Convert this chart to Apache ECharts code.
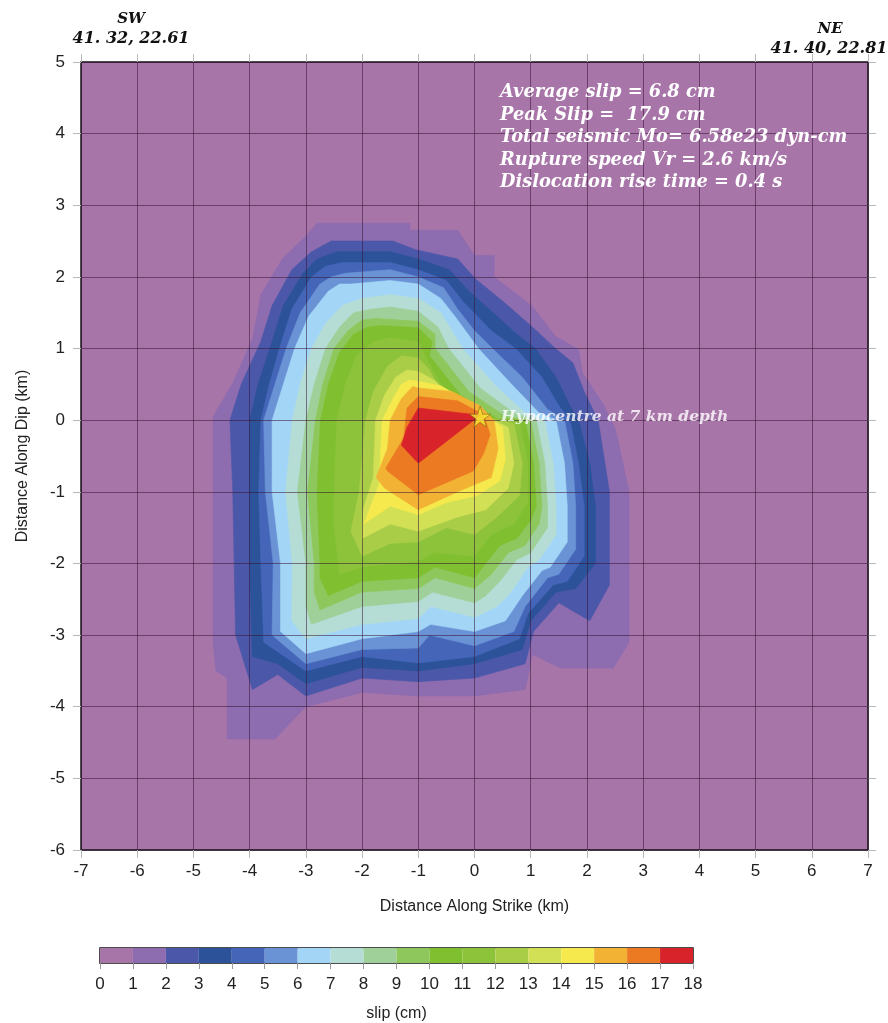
<!DOCTYPE html>
<html>
<head>
<meta charset="utf-8">
<script src="https://cdn.jsdelivr.net/npm/echarts@6/dist/echarts.min.js"></script>
<style>
  html, body { margin: 0; padding: 0; background: #ffffff; }
  #chart { width: 888px; height: 1023px; }
</style>
</head>
<body>
<div id="chart"></div>
<script>
// Slip levels (cm) and the colour of each 1 cm band
const slipLevels = [0, 1, 2, 3, 4, 5, 6, 7, 8, 9, 10, 11, 12, 13, 14, 15, 16, 17, 18];
const bandColors = [
  '#a875a9', '#8d6cb0', '#4b57a8', '#2c5299', '#4566b8', '#6a93d6',
  '#a3d6f6', '#b5ddd5', '#a0d09a', '#8ec85c', '#7fbf30', '#8cc33a',
  '#aacd48', '#d2e055', '#f5e94e', '#f2b334', '#ec7a22', '#d9232b'
];

// Slip contours, [along strike km, along dip km]; contourN encloses slip >= N cm
const contour1 = [[-2.8,2.75],[-1.15,2.75],[-1.15,2.65],[-0.3,2.65],[0.0,2.3],[0.35,2.3],[0.35,2.0],[1.03,1.59],[1.44,1.17],[1.85,0.99],[1.92,0.66],[2.28,0.24],[2.51,-0.13],[2.75,-1.0],[2.75,-3.1],[2.47,-3.46],[1.53,-3.46],[1.03,-3.27],[0.9,-3.76],[0.0,-3.85],[-1.0,-3.85],[-2.0,-3.8],[-3.0,-4.0],[-3.55,-4.45],[-4.4,-4.45],[-4.4,-3.6],[-4.6,-3.5],[-4.65,-3.1],[-4.65,0.05],[-4.3,0.52],[-3.95,1.13],[-3.8,1.75],[-3.42,2.25],[-3.0,2.57]];
const contour2 = [[-2.55,2.5],[-1.45,2.5],[-1.05,2.38],[-0.3,2.25],[0.02,1.97],[0.55,1.63],[1.03,1.3],[1.44,1.0],[1.75,0.8],[1.95,0.4],[2.2,0.0],[2.3,-0.5],[2.4,-1.0],[2.4,-2.3],[2.05,-2.8],[1.5,-2.55],[1.05,-2.95],[0.9,-3.4],[0.0,-3.6],[-1.0,-3.65],[-2.0,-3.6],[-3.0,-3.85],[-3.5,-3.55],[-3.95,-3.76],[-4.25,-3.0],[-4.3,-1.0],[-4.35,0.0],[-4.15,0.5],[-3.8,1.1],[-3.6,1.6],[-3.25,2.1],[-2.9,2.35]];
const contour3 = [[-2.45,2.35],[-1.5,2.35],[-1.0,2.25],[-0.45,2.1],[-0.1,1.8],[0.4,1.45],[0.75,1.2],[1.08,1.0],[1.45,0.6],[1.7,0.2],[1.85,0.0],[2.05,-0.6],[2.15,-1.2],[2.15,-2.0],[1.8,-2.35],[1.45,-2.4],[1.0,-2.8],[0.85,-3.2],[0.0,-3.4],[-1.0,-3.5],[-2.0,-3.45],[-3.0,-3.68],[-3.5,-3.4],[-3.95,-3.3],[-4.0,-2.0],[-4.0,-1.0],[-4.0,0.0],[-3.85,0.5],[-3.6,1.1],[-3.4,1.6],[-3.05,2.05],[-2.8,2.25]];
const contour4 = [[-2.35,2.2],[-1.5,2.2],[-1.0,2.1],[-0.5,1.95],[-0.2,1.65],[0.3,1.25],[0.73,1.0],[1.2,0.6],[1.5,0.2],[1.7,0.0],[1.85,-0.6],[1.95,-1.2],[1.95,-1.9],[1.65,-2.25],[1.4,-2.3],[0.95,-2.7],[0.8,-3.05],[0.0,-3.3],[-1.0,-3.39],[-2.0,-3.3],[-3.0,-3.5],[-3.75,-3.1],[-3.8,-2.0],[-3.84,-1.0],[-3.8,0.0],[-3.65,0.5],[-3.45,1.05],[-3.25,1.55],[-2.9,2.0],[-2.65,2.15]];
const contour5 = [[-2.3,2.05],[-1.5,2.1],[-1.0,2.0],[-0.55,1.85],[-0.3,1.55],[0.0,1.25],[0.32,1.0],[0.85,0.6],[1.3,0.15],[1.6,0.0],[1.75,-0.6],[1.8,-1.2],[1.8,-1.8],[1.5,-2.15],[1.3,-2.2],[0.9,-2.6],[0.7,-2.95],[0.0,-3.15],[-0.8,-3.0],[-1.0,-3.18],[-2.0,-3.2],[-3.0,-3.4],[-3.6,-3.0],[-3.58,-2.0],[-3.72,-1.0],[-3.75,0.0],[-3.55,0.5],[-3.35,1.0],[-3.1,1.5],[-2.75,1.9],[-2.55,2.0]];
const contour6 = [[-2.2,1.9],[-1.5,1.95],[-1.0,1.9],[-0.6,1.7],[-0.35,1.45],[0.07,1.0],[0.6,0.55],[1.15,0.1],[1.45,0.0],[1.6,-0.6],[1.65,-1.2],[1.65,-1.7],[1.35,-2.05],[1.2,-2.1],[0.85,-2.45],[0.55,-2.8],[0.0,-2.95],[-0.78,-2.85],[-1.0,-2.95],[-2.0,-3.05],[-3.0,-3.26],[-3.45,-2.95],[-3.45,-2.0],[-3.6,-1.0],[-3.6,0.0],[-3.4,0.5],[-3.2,1.0],[-2.95,1.45],[-2.6,1.8],[-2.4,1.9]];
const contour7 = [[-2.0,1.7],[-1.5,1.75],[-1.0,1.7],[-0.6,1.5],[-0.21,1.0],[0.35,0.5],[0.9,0.1],[1.25,0.0],[1.4,-0.6],[1.45,-1.2],[1.45,-1.6],[1.15,-1.95],[0.95,-2.05],[0.65,-2.4],[0.4,-2.6],[0.0,-2.75],[-0.78,-2.6],[-1.0,-2.77],[-2.0,-2.85],[-3.0,-3.05],[-3.25,-2.8],[-3.24,-2.0],[-3.36,-1.0],[-3.24,0.0],[-3.1,0.5],[-2.9,1.0],[-2.65,1.35],[-2.35,1.6]];
const contour8 = [[-1.85,1.55],[-1.5,1.58],[-1.0,1.52],[-0.65,1.3],[-0.46,1.0],[0.1,0.45],[0.7,0.1],[1.1,0.0],[1.25,-0.6],[1.3,-1.2],[1.3,-1.5],[1.0,-1.85],[0.75,-1.95],[0.45,-2.25],[0.2,-2.45],[0.0,-2.55],[-0.75,-2.4],[-1.0,-2.53],[-2.0,-2.6],[-2.9,-2.85],[-3.0,-2.6],[-3.0,-2.0],[-3.15,-1.0],[-3.0,0.0],[-2.85,0.5],[-2.65,1.0],[-2.4,1.3],[-2.15,1.5]];
const contour9 = [[-1.75,1.42],[-1.0,1.38],[-0.7,1.2],[-0.7,1.0],[-0.1,0.4],[0.55,0.05],[1.0,0.0],[1.15,-0.6],[1.2,-1.2],[1.15,-1.45],[0.9,-1.75],[0.6,-1.85],[0.3,-2.15],[0.0,-2.35],[-0.7,-2.2],[-1.0,-2.35],[-2.0,-2.4],[-2.75,-2.65],[-2.85,-2.4],[-2.85,-2.0],[-2.97,-1.0],[-2.83,0.0],[-2.7,0.5],[-2.5,1.0],[-2.25,1.25],[-2.0,1.4]];
const contour10 = [[-1.65,1.32],[-1.0,1.29],[-0.75,1.1],[-0.8,0.9],[-0.25,0.35],[0.4,0.02],[0.9,0.0],[1.05,-0.6],[1.1,-1.2],[1.0,-1.4],[0.75,-1.65],[0.45,-1.75],[0.15,-2.05],[0.0,-2.2],[-0.7,-2.05],[-1.0,-2.2],[-2.0,-2.25],[-2.6,-2.45],[-2.75,-2.2],[-2.75,-2.0],[-2.8,-1.0],[-2.74,0.0],[-2.6,0.5],[-2.4,0.95],[-2.15,1.2],[-1.9,1.3]];
const contour11 = [[-1.5,1.15],[-1.0,1.1],[-0.85,0.85],[-0.45,0.3],[0.25,0.0],[0.8,0.0],[0.95,-0.6],[0.95,-1.15],[0.7,-1.45],[0.3,-1.6],[0.0,-1.9],[-0.7,-1.85],[-1.0,-1.97],[-2.0,-2.05],[-2.4,-2.15],[-2.5,-1.5],[-2.5,-1.0],[-2.45,0.0],[-2.3,0.5],[-2.1,0.9],[-1.8,1.1]];
const contour12 = [[-1.3,0.9],[-1.0,0.87],[-0.8,0.7],[-0.55,0.3],[0.15,0.05],[0.7,-0.05],[0.85,-0.6],[0.8,-1.05],[0.4,-1.35],[0.0,-1.6],[-0.5,-1.5],[-1.0,-1.7],[-1.5,-1.72],[-2.0,-1.9],[-2.2,-1.55],[-2.05,-1.0],[-1.94,0.0],[-1.8,0.4],[-1.55,0.75]];
const contour13 = [[-1.2,0.7],[-1.0,0.68],[-0.7,0.55],[-0.45,0.35],[0.1,0.1],[0.6,-0.1],[0.7,-0.6],[0.6,-0.95],[0.2,-1.25],[-0.3,-1.35],[-1.0,-1.55],[-1.5,-1.45],[-2.0,-1.65],[-1.98,-1.25],[-1.8,-0.8],[-1.76,0.0],[-1.6,0.35],[-1.4,0.6]];
const contour14 = [[-1.15,0.56],[-1.0,0.54],[-0.6,0.48],[-0.2,0.3],[0.15,0.1],[0.5,-0.1],[0.55,-0.55],[0.45,-0.85],[0.05,-1.05],[-0.5,-1.15],[-1.0,-1.32],[-1.5,-1.2],[-1.97,-1.45],[-1.7,-0.9],[-1.64,0.0],[-1.45,0.3],[-1.3,0.5]];
const contour15 = [[-1.1,0.47],[-1.0,0.45],[-0.4,0.4],[0.1,0.2],[0.35,0.0],[0.42,-0.4],[0.3,-0.8],[-0.3,-1.0],[-1.0,-1.25],[-1.6,-0.95],[-1.75,-0.8],[-1.55,-0.4],[-1.5,0.0],[-1.3,0.3]];
const contour16 = [[-1.0,0.33],[-0.3,0.27],[0.16,0.08],[0.28,-0.2],[0.16,-0.47],[-0.02,-0.71],[-1.0,-1.04],[-1.55,-0.71],[-1.58,-0.67],[-1.26,-0.25],[-1.2,0.17]];
const contour17 = [[-1.0,0.17],[0.1,0.07],[-1.0,-0.6],[-1.3,-0.35],[-1.2,-0.1]];
const contours = [contour1, contour2, contour3, contour4, contour5, contour6, contour7, contour8,
  contour9, contour10, contour11, contour12, contour13, contour14, contour15, contour16, contour17];

// Hypocentre position (km)
const hypocentre = [0.1, 0.05];

// Fault-plane axis extents (km)
const strikeRange = [-7, 7];
const dipRange = [-6, 5];

const summaryLines = [
  'Average slip = 6.8 cm',
  'Peak Slip =  17.9 cm',
  'Total seismic Mo= 6.58e23 dyn-cm',
  'Rupture speed Vr = 2.6 km/s',
  'Dislocation rise time = 0.4 s'
];

const serifBI = '"DejaVu Serif", "Liberation Serif", serif';
const sans = '"Liberation Sans", Arial, Helvetica, sans-serif';
const starPath = 'path://M50,0 L61,35 L98,35 L68,57 L79,91 L50,70 L21,91 L32,57 L2,35 L39,35 Z';

const chart = echarts.init(document.getElementById('chart'), null, { renderer: 'canvas' });

const gridLineStyle = { color: 'rgba(55,20,55,0.55)', width: 1 };
const tickStyle = { color: '#b8b8b8', width: 1 };
const hiddenLine = { show: false, onZero: false };

chart.setOption({
  backgroundColor: '#ffffff',
  animation: false,
  grid: [
    { left: 81, right: 20, top: 62, bottom: 173, show: true,
      backgroundColor: bandColors[0], borderColor: '#151515', borderWidth: 1.5 },
    { left: 100, right: 195, top: 948, height: 15, show: true,
      backgroundColor: 'transparent', borderColor: '#151515', borderWidth: 1.5 }
  ],
  xAxis: [
    { gridIndex: 0, type: 'value', min: strikeRange[0], max: strikeRange[1], interval: 1, z: 3,
      name: 'Distance Along Strike (km)', nameLocation: 'middle', nameGap: 49,
      nameTextStyle: { fontFamily: sans, fontSize: 16, color: '#222' },
      axisLine: hiddenLine, axisTick: { show: true, length: 8, lineStyle: tickStyle },
      axisLabel: { fontFamily: sans, fontSize: 17, color: '#222', margin: 13 },
      splitLine: { show: true, lineStyle: gridLineStyle } },
    { gridIndex: 0, type: 'value', position: 'top', min: strikeRange[0], max: strikeRange[1], interval: 1,
      axisLine: hiddenLine, axisTick: { show: true, length: 8, lineStyle: tickStyle },
      axisLabel: { show: false }, splitLine: { show: false } },
    { gridIndex: 1, type: 'value', min: slipLevels[0], max: slipLevels[slipLevels.length - 1], interval: 1,
      name: 'slip (cm)', nameLocation: 'middle', nameGap: 43,
      nameTextStyle: { fontFamily: sans, fontSize: 16, color: '#222' },
      axisLine: hiddenLine, axisTick: { show: true, length: 6, lineStyle: { color: '#999' } },
      axisLabel: { fontFamily: sans, fontSize: 17, color: '#222', margin: 13 },
      splitLine: { show: false } }
  ],
  yAxis: [
    { gridIndex: 0, type: 'value', min: dipRange[0], max: dipRange[1], interval: 1, z: 3,
      name: 'Distance Along Dip (km)', nameLocation: 'middle', nameGap: 50, nameRotate: 90,
      nameTextStyle: { fontFamily: sans, fontSize: 16, color: '#222' },
      axisLine: hiddenLine, axisTick: { show: true, length: 8, lineStyle: tickStyle },
      axisLabel: { fontFamily: sans, fontSize: 17, color: '#222', margin: 16 },
      splitLine: { show: true, lineStyle: gridLineStyle } },
    { gridIndex: 0, type: 'value', position: 'right', min: dipRange[0], max: dipRange[1], interval: 1,
      axisLine: hiddenLine, axisTick: { show: true, length: 8, lineStyle: tickStyle },
      axisLabel: { show: false }, splitLine: { show: false } },
    { gridIndex: 1, type: 'value', min: 0, max: 1, show: false }
  ],
  series: [
    {
      // filled slip contours, lowest level first so higher slip sits on top
      type: 'custom', xAxisIndex: 0, yAxisIndex: 0, z: 2, clip: true, silent: true,
      data: contours.map((c, i) => [i + 1, 0]),
      renderItem: (params, api) => {
        const lvl = params.dataIndex + 1;
        const pts = contours[lvl - 1].map(p => api.coord(p));
        return { type: 'polygon', shape: { points: pts },
          style: { fill: bandColors[lvl], stroke: bandColors[lvl], lineWidth: 0.6 } };
      }
    },
    {
      type: 'scatter', xAxisIndex: 0, yAxisIndex: 0, z: 6, silent: true,
      data: [hypocentre], symbol: starPath, symbolSize: 21,
      itemStyle: { color: '#f7ea36', borderColor: '#8c6a12', borderWidth: 0.8 },
      label: { show: true, position: 'right', distance: 10, formatter: 'Hypocentre at 7 km depth',
        color: '#ffffff', fontFamily: serifBI, fontStyle: 'italic', fontWeight: 'bold', fontSize: 15.5 }
    },
    {
      // colour scale
      type: 'custom', xAxisIndex: 2, yAxisIndex: 2, z: 2, silent: true,
      data: slipLevels.slice(0, -1).map((v, i) => [v, slipLevels[i + 1]]),
      renderItem: (params, api) => {
        const p0 = api.coord([api.value(0), 1]);
        const p1 = api.coord([api.value(1), 0]);
        return { type: 'rect', shape: { x: p0[0], y: p0[1], width: p1[0] - p0[0], height: p1[1] - p0[1] },
          style: { fill: bandColors[params.dataIndex] } };
      }
    }
  ],
  graphic: [
    { type: 'text', x: 131, y: 19, z: 10, style: { text: 'SW', font: 'italic bold 15px ' + serifBI,
      fill: '#111', align: 'center', verticalAlign: 'middle' } },
    { type: 'text', x: 131, y: 39, z: 10, style: { text: '41. 32, 22.61', font: 'italic bold 16px ' + serifBI,
      fill: '#111', align: 'center', verticalAlign: 'middle' } },
    { type: 'text', x: 830, y: 29, z: 10, style: { text: 'NE', font: 'italic bold 15px ' + serifBI,
      fill: '#111', align: 'center', verticalAlign: 'middle' } },
    { type: 'text', x: 829, y: 49, z: 10, style: { text: '41. 40, 22.81', font: 'italic bold 16px ' + serifBI,
      fill: '#111', align: 'center', verticalAlign: 'middle' } },
    { type: 'text', x: 500, y: 81, z: 10, style: { text: summaryLines.join('\n'),
      font: 'italic bold 17.8px ' + serifBI, lineHeight: 22.6, fill: '#ffffff' } }
  ]
});
</script>
</body>
</html>
